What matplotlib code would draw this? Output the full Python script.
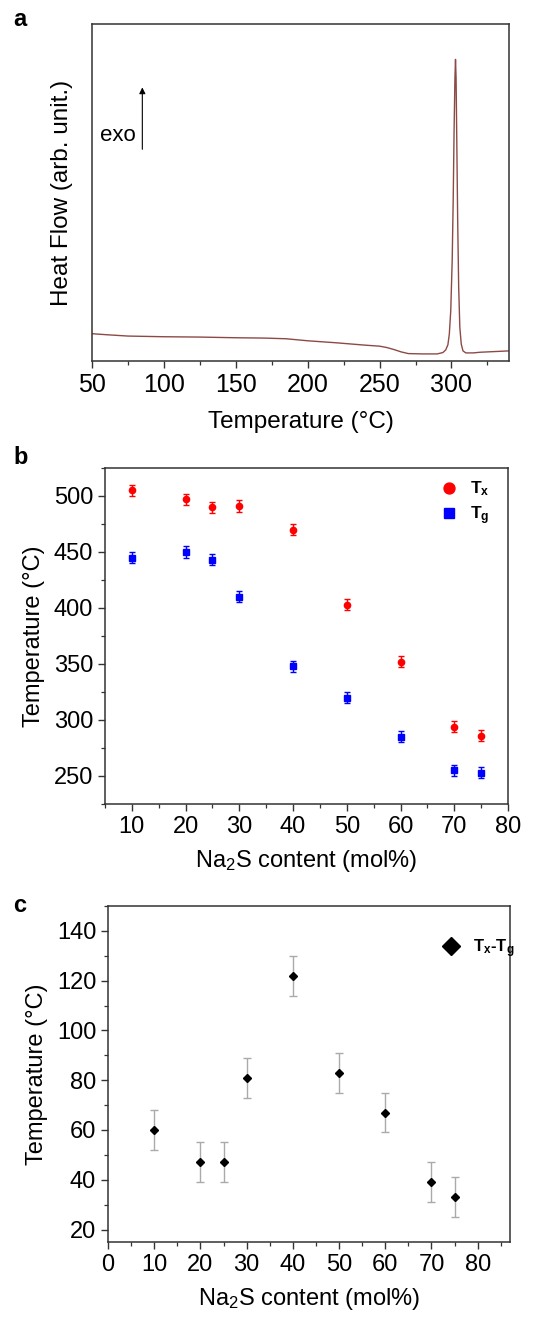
import numpy as np
import matplotlib
matplotlib.use("Agg")
import matplotlib.pyplot as plt
from matplotlib.ticker import MultipleLocator

plt.rcParams['font.family'] = ['Liberation Sans', 'DejaVu Sans']
plt.rcParams['mathtext.fontset'] = 'custom'
plt.rcParams['mathtext.rm'] = 'Liberation Sans'
plt.rcParams['mathtext.it'] = 'Liberation Sans:italic'
plt.rcParams['mathtext.bf'] = 'Liberation Sans:bold'

# (a) DSC trace (heat flow in arbitrary units)
dsc_T = [50, 60, 75, 100, 125, 150, 170, 185, 200, 220, 240, 250, 255, 260, 265, 270,
         280, 290, 294, 296, 297.5, 298.5, 299.5, 300.5, 301.2, 301.8, 302.4, 302.8,
         303.2, 303.7, 304.3, 305, 305.8, 306.8, 308, 310, 315, 320, 330, 340]
dsc_HF = [0.081, 0.078, 0.074, 0.072, 0.071, 0.069, 0.068, 0.066, 0.060, 0.054, 0.047, 0.044,
          0.040, 0.034, 0.027, 0.022, 0.021, 0.021, 0.025, 0.033, 0.048, 0.080, 0.150, 0.300,
          0.480, 0.680, 0.840, 0.895, 0.840, 0.650, 0.420, 0.220, 0.100, 0.050, 0.030, 0.024,
          0.024, 0.026, 0.028, 0.030]

# (b) Tx and Tg vs Na2S content
na2s = [10, 20, 25, 30, 40, 50, 60, 70, 75]
Tx = [505, 497, 490, 491, 470, 403, 352, 294, 286]
Tx_err = [5, 5, 5, 5, 5, 5, 5, 5, 5]
Tg = [445, 450, 443, 410, 348, 320, 285, 255, 253]
Tg_err = [5, 5, 5, 5, 5, 5, 5, 5, 5]

# (c) Tx - Tg
dT = [60, 47, 47, 81, 122, 83, 67, 39, 33]
dT_err = [8, 8, 8, 8, 8, 8, 8, 8, 8]

W, H = 539, 1319
fig = plt.figure(figsize=(W / 100, H / 100), dpi=100)


def ax_px(l, t, r, b):
    return fig.add_axes([l / W, 1 - b / H, (r - l) / W, (b - t) / H])


def style(ax, fs):
    for s in ax.spines.values():
        s.set_linewidth(1.1); s.set_color('#333333')
    ax.tick_params(which='both', direction='out', top=False, right=False,
                   labelsize=fs, color='#333333')
    ax.tick_params(which='major', length=5, width=1.0)
    ax.tick_params(which='minor', length=3, width=0.9)


# ---- a ----
axa = ax_px(92, 24, 509, 361)
axa.plot(dsc_T, dsc_HF, color='#8c4a45', lw=1.0)
axa.set_xlim(50, 340); axa.set_ylim(0, 1)
axa.xaxis.set_major_locator(MultipleLocator(50))
axa.xaxis.set_minor_locator(MultipleLocator(25))
axa.set_yticks([])
style(axa, 18)
axa.set_xlabel('Temperature (\u00b0C)', fontsize=17.5, labelpad=10)
axa.set_ylabel('Heat Flow (arb. unit.)', fontsize=17.5, labelpad=14)
axa.annotate('', xy=(85, 0.82), xytext=(85, 0.62),
             arrowprops=dict(arrowstyle='-|>', color='black', lw=0.8, mutation_scale=9))
axa.text(55.5, 0.67, 'exo', fontsize=16, va='center', ha='left')
fig.text(13 / W, 1 - 19 / H, 'a', fontsize=17, fontweight='bold', va='center', ha='left')

# ---- b ----
axb = ax_px(105, 468, 508, 804)
axb.errorbar(na2s, Tx, yerr=Tx_err, fmt='o', color='#ff0000', ms=4.5, capsize=2.5,
             elinewidth=1.0, capthick=1.0, label='T$_\\mathregular{x}$')
axb.errorbar(na2s, Tg, yerr=Tg_err, fmt='s', color='#0000ff', ms=4.2, capsize=2.5,
             elinewidth=1.0, capthick=1.0, label='T$_\\mathregular{g}$')
axb.set_xlim(5, 80); axb.set_ylim(225, 525)
axb.xaxis.set_major_locator(MultipleLocator(10))
axb.xaxis.set_minor_locator(MultipleLocator(5))
axb.yaxis.set_major_locator(MultipleLocator(50))
axb.yaxis.set_minor_locator(MultipleLocator(25))
style(axb, 17)
axb.set_xlabel('Na$_\\mathregular{2}$S content (mol%)', fontsize=17, labelpad=7)
axb.set_ylabel('Temperature (\u00b0C)', fontsize=17, labelpad=6)
hb, lb = axb.get_legend_handles_labels()
axb.legend([h[0] for h in hb], lb, loc='upper left', frameon=False,
           prop={'weight': 'bold', 'size': 12.5}, markerscale=1.75, handlelength=1.2,
           handletextpad=0.6, bbox_to_anchor=(0.79, 1.012), labelspacing=0.35)
fig.text(13 / W, 1 - 457 / H, 'b', fontsize=17, fontweight='bold', va='center', ha='left')

# ---- c ----
axc = ax_px(108, 906, 510, 1242)
axc.errorbar(na2s, dT, yerr=dT_err, fmt='none', ecolor='#aaaaaa', elinewidth=1.0,
             capsize=3, capthick=1.0)
axc.plot(na2s, dT, 'D', color='black', ms=4.5, label='T$_\\mathregular{x}$-T$_\\mathregular{g}$')
axc.set_xlim(0, 87); axc.set_ylim(15, 150)
axc.xaxis.set_major_locator(MultipleLocator(10))
axc.xaxis.set_minor_locator(MultipleLocator(5))
axc.yaxis.set_major_locator(MultipleLocator(20))
axc.yaxis.set_minor_locator(MultipleLocator(10))
style(axc, 17)
axc.set_xlabel('Na$_\\mathregular{2}$S content (mol%)', fontsize=17, labelpad=7)
axc.set_ylabel('Temperature (\u00b0C)', fontsize=17, labelpad=6)
axc.legend(loc='upper left', frameon=False, prop={'weight': 'bold', 'size': 12},
           markerscale=2.0, handlelength=1.2, handletextpad=0.7,
           bbox_to_anchor=(0.792, 0.952))
fig.text(13 / W, 1 - 905 / H, 'c', fontsize=17, fontweight='bold', va='center', ha='left')

fig.savefig('out.png', dpi=100)
